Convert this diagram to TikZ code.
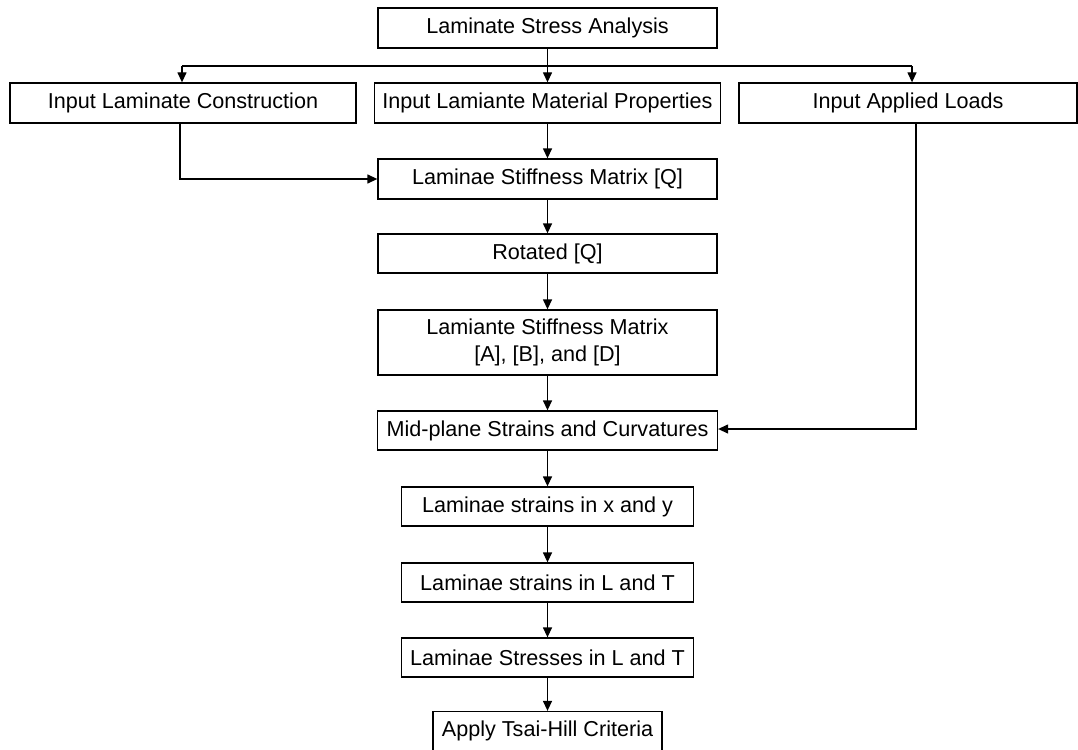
\documentclass[tikz,border=0pt]{standalone}
\usepackage{fontspec}
\setmainfont{Liberation Sans}
\usetikzlibrary{arrows.meta}
\begin{document}
\begin{tikzpicture}[x=1pt,y=-1pt,
  box/.style={draw=black,line width=1.3pt,rectangle,inner sep=0pt,align=center,font=\fontsize{21.6}{26.5}\selectfont},
  conn/.style={line width=1.3pt,-{Triangle[length=10pt,width=9pt]}},
  plain/.style={line width=1.3pt}]
\useasboundingbox (0,0) rectangle (1078,749);
\node[box,minimum width=339pt,minimum height=40pt] (lsa) at (547.5,28) {Laminate Stress Analysis};
\node[box,minimum width=346pt,minimum height=40pt] (ilc) at (183,103) {Input Laminate Construction};
\node[box,minimum width=346pt,minimum height=40pt] (ilmp) at (547.5,103) {Input Lamiante Material Properties};
\node[box,minimum width=338pt,minimum height=40pt] (ial) at (908,103) {Input Applied Loads};
\node[box,minimum width=339pt,minimum height=40pt] (lsmq) at (547.5,179) {Laminae Stiffness Matrix [Q]};
\node[box,minimum width=339pt,minimum height=39pt] (rq) at (547.5,253.5) {Rotated [Q]};
\node[box,minimum width=339pt,minimum height=65pt] (abd) at (547.5,342.5) {Lamiante Stiffness Matrix\\{}[A], [B], and [D]};
\node[box,minimum width=340pt,minimum height=39pt] (mid) at (547.5,430.5) {Mid-plane Strains and Curvatures};
\node[box,minimum width=292pt,minimum height=39pt] (lsxy) at (547.5,506.5) {Laminae strains in x and y};
\node[box,minimum width=292pt,minimum height=39pt] (lslt) at (547.5,582.5) {Laminae strains in L and T};
\node[box,minimum width=292pt,minimum height=39pt] (sslt) at (547.5,657.5) {Laminae Stresses in L and T};
\node[box,minimum width=229pt,minimum height=39pt] (th) at (547.5,731) {Apply Tsai-Hill Criteria};
\coordinate (leftend) at (182,66);
\coordinate (rightend) at (912,66);
\draw[conn] (lsa.south) -- (ilmp.north);
\draw[plain] (leftend) -- (rightend);
\draw[conn] (leftend) -- (leftend |- ilc.north);
\draw[conn] (rightend) -- (rightend |- ial.north);
\draw[conn] ([xshift=-3pt]ilc.south) |- (lsmq.west);
\draw[conn] (ilmp.south) -- (lsmq.north);
\draw[conn] (lsmq.south) -- (rq.north);
\draw[conn] (rq.south) -- (abd.north);
\draw[conn] (abd.south) -- (mid.north);
\draw[conn] ([xshift=8pt]ial.south) |- ([yshift=1.5pt]mid.east);
\draw[conn] (mid.south) -- (lsxy.north);
\draw[conn] (lsxy.south) -- (lslt.north);
\draw[conn] (lslt.south) -- (sslt.north);
\draw[conn] (sslt.south) -- (th.north);
\end{tikzpicture}
\end{document}
